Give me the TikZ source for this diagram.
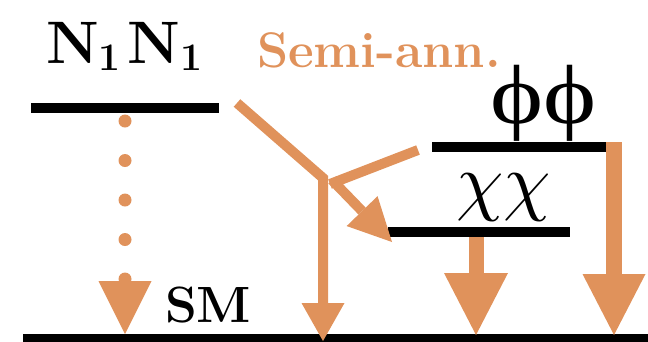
\documentclass[tikz,border=0pt]{standalone}
\usepackage{fontspec}
\newfontfamily\grk{Liberation Serif}
\usetikzlibrary{arrows.meta}
\definecolor{orng}{RGB}{224,146,91}
\newcommand{\subone}{\raisebox{-7bp}{\fontsize{39bp}{43bp}\selectfont 1}}
\begin{document}
\begin{tikzpicture}[x=1bp,y=-1bp,
  level/.style={line width=10bp},
  flow/.style={orng,line width=10bp,line join=miter},
  txt/.style={inner sep=0pt,outer sep=0pt}]
\useasboundingbox (0,0) rectangle (648,341);
% levels
\coordinate (n1) at (31,108);  \coordinate (n2) at (219,108);
\coordinate (p1) at (432,147); \coordinate (p2) at (622,147);
\coordinate (c1) at (388,232); \coordinate (c2) at (570,232);
\coordinate (s1) at (23,338);  \coordinate (s2) at (660,338);
\draw[level] (n1) -- (n2);
\draw[level] (p1) -- (p2);
\draw[level] (c1) -- (c2);
\draw[line width=8bp] (s1) -- (s2);
% labels
\node[txt,anchor=base west] (tN) at (46,63) {\fontsize{60bp}{66bp}\selectfont\bfseries N\subone\hspace{7bp}N\subone};
\node[txt,anchor=base west,text=orng] (tS) at (257,67) {\fontsize{50bp}{56bp}\selectfont\bfseries Semi-ann.};
\node[txt,anchor=base west] (tSM) at (165,322) {\fontsize{51bp}{56bp}\selectfont\bfseries SM};
\node[txt,anchor=south,xscale=1.2] (tP) at (544,141) {\fontsize{84bp}{92bp}\selectfont\grk ϕϕ};
\node[txt,anchor=south,scale=7.6] (tC) at (504,221) {$\chi\chi$};
% dotted decay
\coordinate (d0) at (125,121); \coordinate (dm) at (125,290);
\coordinate (dh) at (125,300); \coordinate (d1) at (125,334);
\draw[orng,line width=13bp,line cap=round,dash pattern=on 0bp off 39.5bp] (d0) -- (dm);
\draw[orng,line width=0.1bp,-{Triangle[length=53bp,width=53bp,line width=0pt]}] (dh) -- (d1);
% semi-annihilation
\coordinate (a0) at (237,103); \coordinate (j) at (323,178); \coordinate (jb) at (323,341);
\draw[flow,-{Triangle[length=38bp,width=43bp,line width=0pt]}] (a0) -- (j) -- (jb);
\coordinate (b0) at (418,150); \coordinate (j2) at (330,184);
\draw[flow] (b0) -- (j2);
\coordinate (e0) at (332,180); \coordinate (e1) at (392,242);
\draw[flow,-{Triangle[length=43bp,width=43bp,line width=0pt]}] (e0) -- (e1);
% decays to SM
\coordinate (x0) at (476,237); \coordinate (x1) at (476,335);
\draw[orng,line width=15bp,-{Triangle[length=62bp,width=64bp,line width=0pt]}] (x0) -- (x1);
\coordinate (f0) at (614,142); \coordinate (f1) at (614,335);
\draw[orng,line width=16bp,-{Triangle[length=61bp,width=63bp,line width=0pt]}] (f0) -- (f1);
\end{tikzpicture}
\end{document}
